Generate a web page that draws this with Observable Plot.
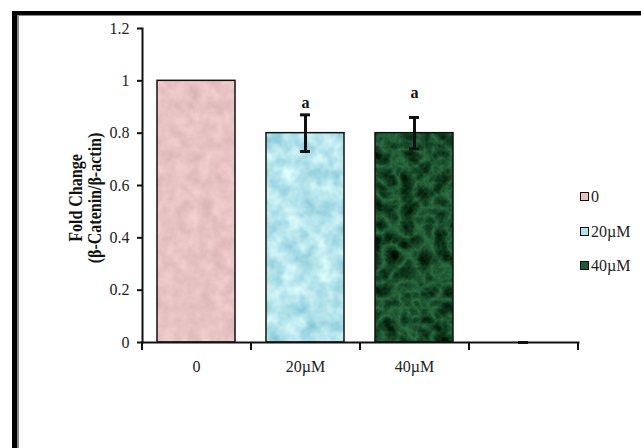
<!DOCTYPE html>
<html><head><meta charset="utf-8">
<script src="https://cdn.jsdelivr.net/npm/d3@7"></script>
<script src="https://cdn.jsdelivr.net/npm/@observablehq/plot@0.6"></script>
<style>
body{margin:0;background:#fff;}
#wrap{position:relative;width:641px;height:448px;overflow:hidden;background:#fff;font-family:"Liberation Serif","Times New Roman",serif;}
#wrap svg{position:absolute;left:0;top:0;}
#frame{position:absolute;left:12px;top:11px;right:-20px;bottom:-20px;border-top:4px solid #000;border-left:5px solid #000;box-shadow:inset 2px 1px 0 #8a8a8a;pointer-events:none;}
.ylab{position:absolute;width:240px;text-align:center;font-weight:bold;font-size:16px;line-height:18px;color:#111;transform:rotate(-90deg) scaleY(1.15);white-space:nowrap;}
.leg{position:absolute;font-size:16px;line-height:18px;color:#222;white-space:nowrap;}
.leg span{display:inline-block;width:7px;height:7px;border:1.5px solid #111;margin-right:2px;vertical-align:1px;}
</style></head><body><div id="wrap"></div>
<script>
// ---- data ----
const categories = ["0", "20µM", "40µM", ""];
const values = [1, 0.8, 0.8, 0];
const errors = [null, 0.07, 0.06, 0];
const sigLabels = [null, "a", "a", null];
const sigLabelY = [null, 0.917, 0.955, null];
const yTicks = [0, 0.2, 0.4, 0.6, 0.8, 1, 1.2];
const yTickLabels = ["0", "0.2", "0.4", "0.6", "0.8", "1", "1.2"];
const legendLabels = ["0", "20µM", "40µM"];
const barColors = ["#e8c3c3", "#b4e3ea", "#1f5a35"];
const axisTitle = ["Fold Change", "(β-Catenin/β-actin)"];

const data = categories.map((c, i) => ({cat: c, value: values[i], err: errors[i], sig: sigLabels[i], sigY: sigLabelY[i]}));

const W = 641, H = 448;
const mL = 142, mR = 63, mT = 28, mB = 106;
const step = (W - mL - mR) / categories.length;

const bars = data.filter(d => d.value > 0);
const errs = data.filter(d => d.err != null);
const sigs = data.filter(d => d.sig);

const plot = Plot.plot({
  width: W, height: H,
  marginLeft: mL, marginRight: mR, marginTop: mT, marginBottom: mB,
  style: {fontFamily: "'Liberation Serif','Times New Roman',serif", fontSize: "16px", color: "#222", background: "transparent"},
  x: {domain: categories, paddingInner: 0.284, paddingOuter: 0.142, align: 0.5},
  y: {domain: [0, 1.2]},
  color: {domain: legendLabels, range: barColors},
  marks: [
    Plot.barY(bars, {x: "cat", y: "value", fill: "cat"}),
    ...legendLabels.map((c, i) => Plot.barY(bars.filter(d => d.cat === c), {x: "cat", y: "value", fill: `url(#tex${i})`, stroke: "#111", strokeWidth: 1.5})),
    Plot.ruleX(errs.filter(d => d.err > 0), {x: "cat", y1: d => d.value - d.err, y2: d => d.value + d.err, stroke: "#111", strokeWidth: 3}),
    Plot.tickY(errs, {x: "cat", y: d => d.value + d.err, stroke: "#111", strokeWidth: 3, insetLeft: 34, insetRight: 34}),
    Plot.tickY(errs.filter(d => d.err > 0), {x: "cat", y: d => d.value - d.err, stroke: "#111", strokeWidth: 3, insetLeft: 34, insetRight: 34}),
    Plot.text(sigs, {x: "cat", y: "sigY", text: "sig", fontWeight: "bold", fontSize: 16, fill: "#111", lineAnchor: "middle"}),
    Plot.axisY({ticks: yTicks, tickFormat: (d, i) => yTickLabels[i], tickSize: 5, tickPadding: 8, strokeWidth: 2, stroke: "#111", fontSize: 16, label: null}),
    Plot.axisX({tickSize: 0, tickPadding: 18, fontSize: 16, label: null}),
    Plot.frame({anchor: "left", stroke: "#111", strokeWidth: 2}),
    Plot.frame({anchor: "bottom", stroke: "#111", strokeWidth: 2}),
    Plot.ruleX(categories, {x: d => d, dx: -step / 2, y1: 0, y2: 0, insetBottom: -8, stroke: "#111", strokeWidth: 2}),
    Plot.ruleX(categories.slice(-1), {x: d => d, dx: step / 2, y1: 0, y2: 0, insetBottom: -8, stroke: "#111", strokeWidth: 2})
  ]
});

// textures for the bars
const defs = document.createElementNS("http://www.w3.org/2000/svg", "defs");
defs.innerHTML = `
<filter id="fPink" x="0" y="0" width="100%" height="100%" color-interpolation-filters="sRGB">
  <feTurbulence type="fractalNoise" baseFrequency="0.08" numOctaves="4" seed="3"/>
  <feColorMatrix type="matrix" values="0.14 0 0 0 0.84  0.14 0 0 0 0.695  0.14 0 0 0 0.695  0 0 0 0 1"/>
</filter>
<filter id="fBlue" x="0" y="0" width="100%" height="100%" color-interpolation-filters="sRGB">
  <feTurbulence type="fractalNoise" baseFrequency="0.06" numOctaves="3" seed="7"/>
  <feColorMatrix type="matrix" values="0.5 0 0 0 0.46  0.3 0 0 0 0.745  0.2 0 0 0 0.825  0 0 0 0 1"/>
</filter>
<filter id="fGreen" x="0" y="0" width="100%" height="100%" color-interpolation-filters="sRGB">
  <feTurbulence type="turbulence" baseFrequency="0.06" numOctaves="4" seed="11"/>
  <feColorMatrix type="matrix" values="-0.25 0 0 0 0.18  -0.5 0 0 0 0.46  -0.35 0 0 0 0.28  0 0 0 0 1"/>
</filter>
<pattern id="tex0" patternUnits="userSpaceOnUse" x="0" y="0" width="${W}" height="${H}"><rect width="${W}" height="${H}" filter="url(#fPink)"/></pattern>
<pattern id="tex1" patternUnits="userSpaceOnUse" x="0" y="0" width="${W}" height="${H}"><rect width="${W}" height="${H}" filter="url(#fBlue)"/></pattern>
<pattern id="tex2" patternUnits="userSpaceOnUse" x="0" y="0" width="${W}" height="${H}"><rect width="${W}" height="${H}" filter="url(#fGreen)"/></pattern>`;
plot.insertBefore(defs, plot.firstChild);

const wrap = document.getElementById("wrap");
wrap.appendChild(plot);

// y axis title (two lines, rotated)
const titleX = [76, 95], titleY = 198;
axisTitle.forEach((t, i) => {
  const d = document.createElement("div");
  d.className = "ylab";
  d.textContent = t;
  d.style.left = (titleX[i] - 120) + "px";
  d.style.top = (titleY - 9) + "px";
  wrap.appendChild(d);
});

// legend
const legTop = 188, legGap = 34.5;
legendLabels.forEach((t, i) => {
  const d = document.createElement("div");
  d.className = "leg";
  d.style.left = "580px";
  d.style.top = (legTop + i * legGap) + "px";
  const s = document.createElement("span");
  s.style.background = barColors[i];
  d.appendChild(s);
  d.appendChild(document.createTextNode(t));
  wrap.appendChild(d);
});

const fr = document.createElement("div");
fr.id = "frame";
wrap.appendChild(fr);
</script>
</body></html>
